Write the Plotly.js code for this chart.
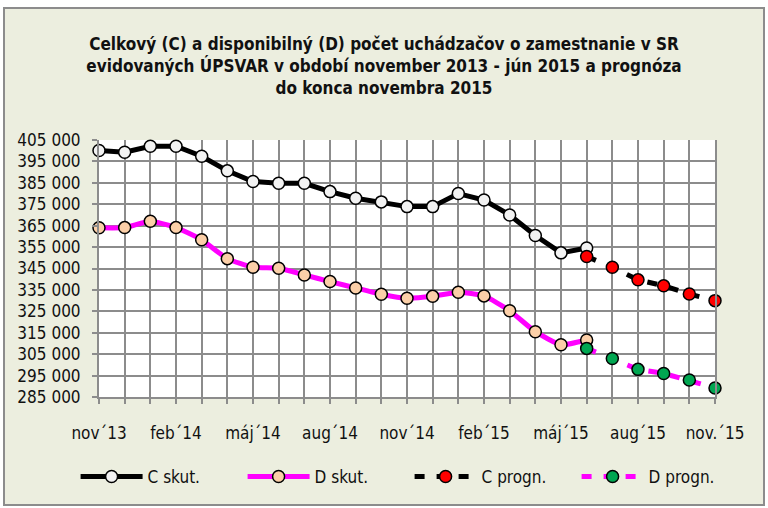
<!DOCTYPE html>
<html>
<head>
<meta charset="utf-8">
<script src="https://cdn.plot.ly/plotly-3.0.1.min.js"></script>
<style>
  html, body { margin: 0; padding: 0; background: #ffffff; }
  #frame { position: absolute; left: 3px; top: 7px; width: 758px; height: 495px; border: 2px solid #8c8c8c; background: #ECEEDF; }
  #chart { width: 758px; height: 495px; }
</style>
</head>
<body>
<div id="frame"><div id="chart"></div></div>
<script>
// Months (categories)
const months = ["nov´13","dec´13","jan´14","feb´14","mar´14","apr´14","máj´14","jún´14","júl´14","aug´14","sep´14","okt´14",
                "nov´14","dec´14","jan´15","feb´15","mar´15","apr´15","máj´15","jún´15","júl´15","aug´15","sep´15","okt´15","nov.´15"];
// Axis tick labels (every third month shown)
const tickText = ["nov´13","","","feb´14","","","máj´14","","","aug´14","","",
                  "nov´14","","","feb´15","","","máj´15","","","aug´15","","","nov.´15"];

// Actual values (nov 2013 – jún 2015)
const actualMonths = months.slice(0, 20);
const cActual = [400100, 399300, 402100, 402100, 397400, 390600, 385600, 384800, 384800, 380900, 377800, 376100,
                 373900, 373900, 380000, 377000, 370000, 360400, 352300, 354600];
const dActual = [364000, 364100, 367100, 364100, 358400, 349600, 345600, 345100, 342000, 338900, 335900, 333000,
                 331100, 332000, 333900, 332200, 325300, 315500, 309400, 311600];

// Forecast values (jún 2015 – nov 2015)
const forecastMonths = months.slice(19);
const cForecast = [350600, 345600, 339700, 336900, 333100, 330000];
const dForecast = [307700, 303000, 297900, 296000, 292900, 289200];

const FONT = '"Liberation Sans Narrow", "DejaVu Sans Condensed", "Arial Narrow", sans-serif';

const traces = [
  { name: "C skut.", x: actualMonths, y: cActual, type: "scatter", mode: "lines+markers", cliponaxis: false,
    line: { color: "#000000", width: 5 },
    marker: { size: 12, color: "#F2F2F2", line: { color: "#000000", width: 1.5 } } },
  { name: "D skut.", x: actualMonths, y: dActual, type: "scatter", mode: "lines+markers", cliponaxis: false,
    line: { color: "#FF00FF", width: 5, shape: "spline", smoothing: 0.5 },
    marker: { size: 12, color: "#FBCFA8", line: { color: "#000000", width: 1.5 } } },
  { name: "C progn.", x: forecastMonths, y: cForecast, type: "scatter", mode: "lines+markers", cliponaxis: false,
    line: { color: "#000000", width: 5, dash: "10px,12px" },
    marker: { size: 12, color: "#FF0000", line: { color: "#000000", width: 1.5 } } },
  { name: "D progn.", x: forecastMonths, y: dForecast, type: "scatter", mode: "lines+markers", cliponaxis: false,
    line: { color: "#FF00FF", width: 5, dash: "10px,12px" },
    marker: { size: 12, color: "#00A651", line: { color: "#000000", width: 1.5 } } }
];

const layout = {
  width: 758, height: 495,
  margin: { l: 94, r: 48, t: 131, b: 107, autoexpand: false },
  paper_bgcolor: "#ECEEDF",
  plot_bgcolor: "#FFFFFF",
  separators: ", ",
  font: { family: FONT, size: 17, color: "#111111" },
  title: {
    text: "<b>Celkový (C) a disponibilný (D) počet uchádzačov o zamestnanie v SR<br>evidovaných ÚPSVAR v období november 2013 - jún 2015 a prognóza<br>do konca novembra 2015</b>",
    font: { family: FONT, size: 17, color: "#111111" },
    x: 0.5, xanchor: "center", y: 0.918, yanchor: "top"
  },
  xaxis: {
    type: "category",
    categoryorder: "array", categoryarray: months,
    range: [0, 24],
    tickmode: "array", tickvals: months, ticktext: tickText,
    showgrid: true, gridcolor: "#8c8c8c", gridwidth: 2,
    ticks: "outside", ticklen: 5, tickwidth: 2, tickcolor: "#8c8c8c",
    ticklabelstandoff: 15,
    showline: true, linecolor: "#8c8c8c", linewidth: 2,
    zeroline: false,
    tickfont: { family: FONT, size: 17, color: "#111111" }
  },
  yaxis: {
    range: [285000, 405000],
    tick0: 285000, dtick: 10000,
    tickformat: ",.0f",
    showgrid: true, gridcolor: "#8c8c8c", gridwidth: 2,
    ticks: "outside", ticklen: 5, tickwidth: 2, tickcolor: "#8c8c8c",
    ticklabelstandoff: 8,
    showline: true, linecolor: "#8c8c8c", linewidth: 2, mirror: true,
    zeroline: false,
    tickfont: { family: FONT, size: 17, color: "#111111" }
  },
  showlegend: true,
  legend: {
    orientation: "h",
    x: -0.038, xanchor: "left",
    y: -0.311, yanchor: "middle",
    bgcolor: "rgba(0,0,0,0)",
    font: { family: FONT, size: 17, color: "#111111" },
    itemwidth: 62,
    entrywidth: 90,
    traceorder: "normal"
  }
};

Plotly.newPlot("chart", traces, layout, { displayModeBar: false, staticPlot: true });
</script>
</body>
</html>
